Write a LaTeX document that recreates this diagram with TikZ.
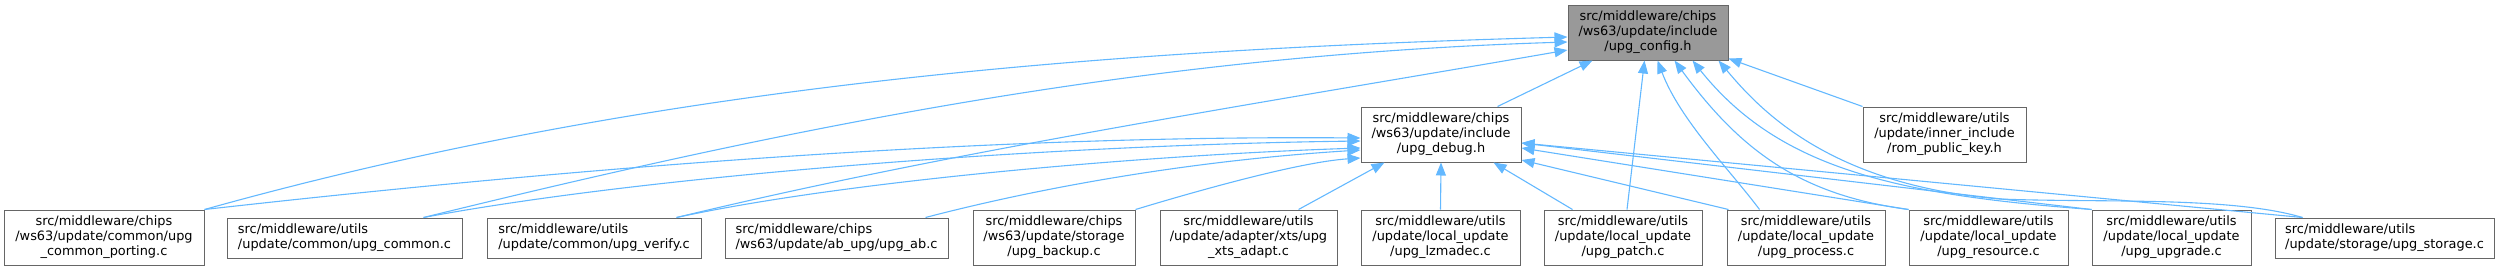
\documentclass[tikz,border=0pt]{standalone}
\usepackage{fontspec}
\setmainfont{DejaVu Sans}
\usetikzlibrary{arrows.meta}
\definecolor{edgeblue}{HTML}{63B8FF}
\definecolor{boxborder}{HTML}{666666}
\definecolor{rootfill}{HTML}{999999}
\tikzset{
  box/.style={draw=boxborder, line width=1pt, fill=white, inner sep=0pt,
    font=\fontsize{12.9}{15}\selectfont, align=center},
  boxthree/.style={box, minimum height=55pt},
  boxtwo/.style={box, minimum height=40pt, align=left},
  edge/.style={draw=edgeblue, line width=1.1pt, -{Triangle[length=13pt,width=10pt]}},
}
\begin{document}
\begin{tikzpicture}[x=1pt,y=-1pt]
\useasboundingbox (0,0) rectangle (2499,271);
% nodes
\node[boxthree, fill=rootfill, minimum width=160pt] (root) at (1648,32.5) {src/middleware/chips\\/ws63/update/include\\/upg\_config.h};
\node[boxthree, minimum width=160pt] (debug) at (1441,134.5) {src/middleware/chips\\/ws63/update/include\\/upg\_debug.h};
\node[boxthree, minimum width=163pt] (rom) at (1944.5,134.5) {src/middleware/utils\\/update/inner\_include\\/rom\_public\_key.h};
\node[boxthree, minimum width=200pt] (cp) at (104,237.5) {src/middleware/chips\\/ws63/update/common/upg\\\_common\_porting.c};
\node[boxtwo, minimum width=235pt] (common) at (344.5,238) {src/middleware/utils\\/update/common/upg\_common.c};
\node[boxtwo, minimum width=214pt] (verify) at (594,238) {src/middleware/utils\\/update/common/upg\_verify.c};
\node[boxtwo, minimum width=223pt] (ab) at (836.5,238) {src/middleware/chips\\/ws63/update/ab\_upg/upg\_ab.c};
\node[boxthree, minimum width=162pt] (backup) at (1054,237.5) {src/middleware/chips\\/ws63/update/storage\\/upg\_backup.c};
\node[boxthree, minimum width=177pt] (xts) at (1248.5,237.5) {src/middleware/utils\\/update/adapter/xts/upg\\\_xts\_adapt.c};
\node[boxthree, minimum width=159pt] (lzma) at (1440.5,237.5) {src/middleware/utils\\/update/local\_update\\/upg\_lzmadec.c};
\node[boxthree, minimum width=158pt] (patch) at (1623,237.5) {src/middleware/utils\\/update/local\_update\\/upg\_patch.c};
\node[boxthree, minimum width=158pt] (process) at (1806,237.5) {src/middleware/utils\\/update/local\_update\\/upg\_process.c};
\node[boxthree, minimum width=159pt] (resource) at (1988.5,237.5) {src/middleware/utils\\/update/local\_update\\/upg\_resource.c};
\node[boxthree, minimum width=159pt] (upgrade) at (2171.5,237.5) {src/middleware/utils\\/update/local\_update\\/upg\_upgrade.c};
\node[boxtwo, minimum width=219pt] (storage) at (2384.5,238) {src/middleware/utils\\/update/storage/upg\_storage.c};
% edges to root
\draw[edge] (cp.north east) .. controls (650,85) and (1100,50) .. ([yshift=-4.5pt]root.west);
\draw[edge] ([xshift=-39pt]common.north east) .. controls (800,125) and (1150,55) .. ([yshift=-9.5pt]root.west);
\draw[edge] ([xshift=-25pt]verify.north east) .. controls (956,150) and (1268,102) .. ([yshift=-17.5pt]root.west);
\draw[edge] ([xshift=-24pt]debug.north east) -- ([xshift=25pt]root.south west);
\draw[edge] ([xshift=4pt]patch.north) -- ([xshift=77pt]root.south west);
\draw[edge] ([xshift=33pt]process.north west) .. controls (1730,170) and (1680,120) .. ([xshift=90pt]root.south west);
\draw[edge] (resource.north west) .. controls (1800,195) and (1740,150) .. ([xshift=107pt]root.south west);
\draw[edge] (upgrade.north west) .. controls (1900,195) and (1780,170) .. ([xshift=125pt]root.south west);
\draw[edge] ([xshift=28pt]storage.north west) .. controls (2230,196) and (2100,203) .. (2000,199) .. controls (1830,185) and (1760,110) .. ([xshift=-10pt]root.south east);
\draw[edge] (rom.north west) -- ([yshift=2pt]root.south east);
% edges to debug
\draw[edge] (cp.north east) .. controls (600,165) and (1000,135) .. ([yshift=-3.5pt]debug.west);
\draw[edge] ([xshift=-39pt]common.north east) .. controls (650,175) and (1050,145) .. ([yshift=-6.5pt]debug.west);
\draw[edge] ([xshift=-25pt]verify.north east) .. controls (850,180) and (1150,155) .. ([yshift=-13.5pt]debug.west);
\draw[edge] ([xshift=-23pt]ab.north east) .. controls (1050,185) and (1200,160) .. ([yshift=-15.5pt]debug.west);
\draw[edge] (backup.north east) .. controls (1200,190) and (1300,162) .. ([yshift=-23.5pt]debug.west);
\draw[edge] ([xshift=-39pt]xts.north east) -- ([xshift=24pt]debug.south west);
\draw[edge] (lzma.north) -- (debug.south);
\draw[edge] ([xshift=29pt]patch.north west) -- ([xshift=-28pt]debug.south east);
\draw[edge] ([xshift=2pt]process.north west) -- ([yshift=-25.5pt]debug.east);
\draw[edge] (resource.north west) -- ([yshift=-13.5pt]debug.east);
\draw[edge] (upgrade.north west) -- ([yshift=-8.5pt]debug.east);
\draw[edge] ([xshift=28pt]storage.north west) -- ([yshift=-8.5pt]debug.east);
\end{tikzpicture}
\end{document}
